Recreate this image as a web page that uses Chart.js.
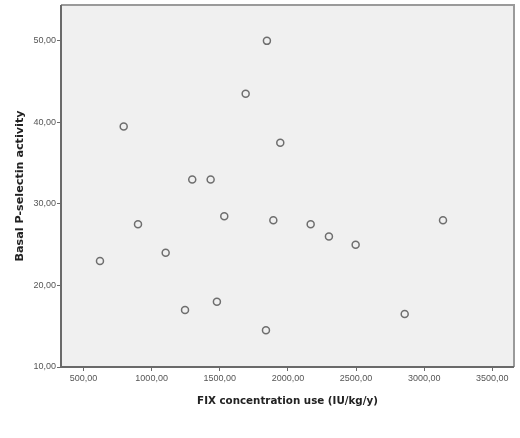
<!DOCTYPE html>
<html><head><meta charset="utf-8">
<script src="https://cdn.jsdelivr.net/npm/chart.js@4"></script>
<style>html,body{margin:0;padding:0;background:#fff}#wrap{width:520px;height:438px}</style>
</head><body><div id="wrap"><canvas id="c" width="520" height="438"></canvas></div>
<script>
const fixUse = [621, 795, 900, 1103, 1245, 1298, 1433, 1479, 1533, 1690, 1846, 1839, 1893, 1944, 2167, 2301, 2497, 2857, 3138];
const pselectin = [23, 39.5, 27.5, 24, 17, 33, 33, 18, 28.5, 43.5, 50, 14.5, 28, 37.5, 27.5, 26, 25, 16.5, 28];
const xTicks = [500, 1000, 1500, 2000, 2500, 3000, 3500];
const yTicks = [10, 20, 30, 40, 50];
const xTitle = 'FIX concentration use (IU/kg/y)';
const yTitle = 'Basal P-selectin activity';

const pts = fixUse.map((x, i) => ({x: x, y: pselectin[i]}));
const fmt = v => Number(v).toFixed(2).replace('.', ',');

const framePlugin = {
  id: 'frame',
  beforeDraw(chart) {
    const a = chart.chartArea, ctx = chart.ctx;
    ctx.save();
    ctx.fillStyle = '#f0f0f0';
    ctx.fillRect(a.left, a.top, a.right - a.left, a.bottom - a.top);
    ctx.restore();
  },
  afterDatasetsDraw(chart) {
    const a = chart.chartArea, ctx = chart.ctx;
    ctx.save();
    ctx.lineWidth = 2;
    ctx.strokeStyle = '#9a9a9a';
    ctx.beginPath();
    ctx.moveTo(a.left, a.top); ctx.lineTo(a.right, a.top); ctx.lineTo(a.right, a.bottom);
    ctx.stroke();
    ctx.strokeStyle = '#6a6a6a';
    ctx.beginPath();
    ctx.moveTo(a.left, a.top); ctx.lineTo(a.left, a.bottom); ctx.lineTo(a.right, a.bottom);
    ctx.stroke();
    ctx.restore();
  }
};

new Chart(document.getElementById('c'), {
  type: 'scatter',
  data: { datasets: [{ data: pts, pointRadius: 3.5, pointBorderWidth: 1.5, pointBorderColor: '#6e6e6e', pointBackgroundColor: 'rgba(0,0,0,0)', pointHoverRadius: 3.5 }] },
  options: {
    responsive: false, animation: false,
    layout: { padding: { top: 4, right: 6, left: 13, bottom: 30 } },
    plugins: { legend: { display: false }, tooltip: { enabled: false } },
    scales: {
      x: {
        type: 'linear', min: 335, max: 3659,
        afterBuildTicks: s => { s.ticks = xTicks.map(v => ({value: v})); },
        afterFit: s => { s.height = 41; s.paddingLeft = 0; s.paddingRight = 0; },
        grid: { drawOnChartArea: false, drawTicks: true, tickLength: 4, color: '#6a6a6a', lineWidth: 1 },
        border: { display: false },
        ticks: { callback: v => fmt(v), color: '#555', font: { family: 'Liberation Sans', size: 9 }, padding: 2, maxRotation: 0 },
        title: { display: true, text: xTitle, color: '#222', font: { family: 'DejaVu Sans', size: 10.3, weight: 'bold' }, padding: { top: 10, bottom: 0 } }
      },
      y: {
        type: 'linear', min: 10, max: 54.4,
        afterBuildTicks: s => { s.ticks = yTicks.map(v => ({value: v})); },
        afterFit: s => { s.width = 48; s.paddingTop = 0; s.paddingBottom = 0; },
        grid: { drawOnChartArea: false, drawTicks: true, tickLength: 4, color: '#6a6a6a', lineWidth: 1 },
        border: { display: false },
        ticks: { callback: v => fmt(v), color: '#555', font: { family: 'Liberation Sans', size: 9 }, padding: 1 },
        title: { display: true, text: yTitle, color: '#222', font: { family: 'DejaVu Sans', size: 11.2, weight: 'bold' }, padding: { top: 0, bottom: 0 } }
      }
    }
  },
  plugins: [framePlugin]
});
</script></body></html>
